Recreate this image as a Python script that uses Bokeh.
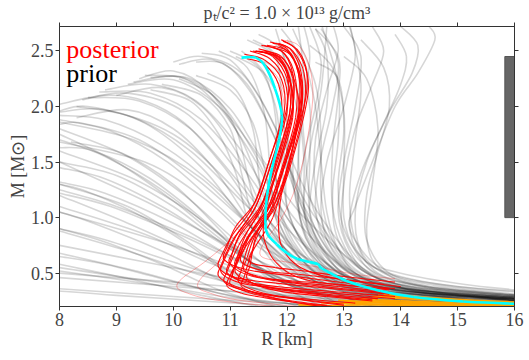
from bokeh.plotting import figure
from bokeh.models import Range1d, LinearAxis, FixedTicker, Label, PrintfTickFormatter
from bokeh.embed import file_html
from bokeh.resources import INLINE

# ---------------- data (R in km, M in solar masses) ----------------
x_ticks = [8, 9, 10, 11, 12, 13, 14, 15, 16]
y_ticks = [0.5, 1.0, 1.5, 2.0, 2.5]
title_text = "pₜ/c² = 1.0 × 10¹³ g/cm³"

# prior mass-radius curves
prior_R = [
    [16, 14.5, 13.6, 13.2, 13.1, 13.2, 13.3, 13.1],
    [16, 15.1, 14.0, 13.5, 13.1, 13.2, 13.5, 13.9, 14.3, 14.6, 14.5],
    [16, 14.3, 13.4, 12.9, 12.8, 12.9, 12.9, 12.6],
    [16, 14.2, 13.3, 12.8, 12.6, 12.6, 12.5, 12.1],
    [16, 14.6, 13.8, 13.4, 13.4, 13.6, 13.8, 13.7, 13.3],
    [16, 14.0, 13.2, 12.7, 12.4, 12.3, 12.2, 11.8, 11.3],
    [16, 14.4, 13.5, 13.0, 13.0, 13.2, 13.5, 13.7, 13.5],
    [16, 14.8, 13.8, 13.3, 13.1, 13.3, 13.7, 14.0, 14.1, 13.9],
    [16, 14.1, 13.2, 12.7, 12.5, 12.5, 12.7, 12.9, 12.8],
    [16, 14.0, 13.1, 12.5, 12.2, 12.0, 11.9, 11.6, 11.1],
    [16, 13.9, 13.0, 12.4, 12.1, 12.0, 12.0, 11.8],
    [16, 14.3, 13.4, 13.0, 12.8, 12.8, 12.9, 12.9, 12.5],
    [16, 14.5, 13.7, 13.3, 13.2, 13.4, 13.8, 14.2, 14.3, 14.0],
    [16, 15.0, 14.0, 13.4, 13.0, 12.9, 13.0, 12.9, 12.5],
    [16, 14.2, 13.2, 12.6, 12.3, 12.2, 12.3, 12.2],
    [16, 14.0, 12.9, 12.3, 12.0, 11.9, 11.8, 11.5, 11.0],
    [16, 14.4, 13.5, 13.1, 12.9, 13.0, 13.2, 13.3, 13.0],
    [16, 14.1, 13.0, 12.5, 12.3, 12.4, 12.6, 12.7],
    [16, 13.8, 12.7, 12.1, 11.8, 11.6, 11.4, 11.0, 10.4],
    [16, 14.6, 13.9, 13.5, 13.4, 13.5, 13.6, 13.4, 13.0],
    [16, 14.3, 13.3, 12.8, 12.6, 12.7, 13.0, 13.2, 13.1],
    [16, 13.9, 12.8, 12.2, 11.9, 11.8, 11.9, 11.8, 11.4],
    [16, 14.2, 13.2, 12.7, 12.4, 12.4, 12.4, 12.2, 11.8],
    [16, 14.0, 13.0, 12.5, 12.3, 12.3, 12.2, 11.9, 11.4],
    [16, 14.0, 12.9, 12.2, 11.9, 11.8, 11.8, 11.6, 11.2],
    [16, 13.8, 12.7, 12.0, 11.6, 11.5, 11.4, 11.1, 10.6],
    [16, 14.2, 13.1, 12.5, 12.2, 12.1, 12.2, 12.2, 11.9],
    [15.5, 13.5, 12.5, 11.9, 11.5, 11.3, 11.1, 10.7, 10.1],
    [16, 13.9, 12.8, 12.3, 12.0, 12.0, 12.1, 11.9, 11.5],
    [16, 14.1, 13.0, 12.4, 12.2, 12.3, 12.5, 12.6, 12.4],
    [15, 13.3, 12.3, 11.7, 11.4, 11.2, 11.0, 10.5, 9.8],
    [16, 14.0, 12.8, 12.1, 11.8, 11.7, 11.6, 11.3, 10.8],
    [14.5, 13.0, 12.1, 11.6, 11.3, 11.1, 10.8, 10.3, 9.6],
    [16, 14.2, 13.2, 12.7, 12.5, 12.6, 12.8, 12.9, 12.6],
    [16, 14.3, 13.3, 12.9, 12.7, 12.6, 12.5, 12.3, 12.0],
    [16, 14.1, 13.1, 12.6, 12.4, 12.5, 12.7, 12.7, 12.5],
    [16, 14.5, 13.6, 13.2, 13.0, 13.0, 13.0, 12.8, 12.4],
    [16, 14.0, 12.9, 12.4, 12.2, 12.2, 12.3, 12.4, 12.3],
    [13.0, 11.5, 10.0, 8.0],
    [12.0, 10.5, 9.0, 8.0],
    [14.0, 12.0, 10.0, 8.0],
    [13.5, 12.0, 10.5, 9.2, 8.0],
    [15.0, 13.0, 11.5, 10.0, 8.0],
    [13.0, 11.8, 10.5, 9.2, 8.0],
    [14.5, 12.5, 11.2, 10.0, 8.8, 8.0],
    [13.8, 12.2, 11.0, 10.0, 9.0, 8.0],
    [16.0, 13.0, 11.6, 10.6, 9.5, 8.0],
    [14.2, 12.6, 11.5, 10.5, 9.3, 8.0],
    [15.0, 13.0, 11.8, 11.0, 10.0, 8.8, 8.0],
    [13.5, 12.3, 11.3, 10.5, 9.5, 8.5, 8.0],
    [14.8, 12.8, 11.8, 11.0, 10.2, 9.2, 8.4],
    [16.0, 13.5, 12.2, 11.5, 10.8, 10.0, 9.2],
    [14.0, 12.5, 11.7, 11.2, 10.6, 10.0, 9.4],
    [15.5, 13.2, 12.3, 11.8, 11.2, 10.5, 10.0],
    [13.0, 11.6, 10.6, 9.6, 8.6, 8.0],
    [12.5, 11.2, 10.2, 9.2, 8.0],
    [12.8, 11.5, 10.0, 8.8, 8.0],
    [15.8, 12.8, 11.0, 9.5, 8.0],
    [13.2, 11.8, 10.8, 9.8, 8.8, 8.0],
    [16.0, 14.0, 12.3, 11.3, 10.3, 9.3, 8.3],
    [14.5, 12.8, 11.9, 11.2, 10.4, 9.6, 8.8],
    [12.2, 11.0, 9.8, 8.6, 8.0],
    [13.3, 12.0, 10.8, 9.8, 8.8, 8.0],
    [14.0, 12.4, 11.4, 10.4, 9.4, 8.4, 8.0],
    [12.0, 10.8, 9.5, 8.0],
    [14.5, 12.6, 11.6, 10.9, 10.2, 9.5, 8.8, 8.0],
    [15.0, 13.0, 12.0, 11.4, 10.8, 10.2, 9.5],
    [16.0, 13.6, 12.5, 11.9, 11.4, 10.9, 10.4],
    [13.6, 12.0, 10.9, 10.0, 9.0, 8.0],
    [15.2, 13.0, 11.9, 11.1, 10.3, 9.4, 8.5],
    [14.0, 12.2, 11.2, 10.2, 9.2, 8.0],
    [16.0, 13.2, 11.5, 10.2, 9.0, 8.0],
    [12.4, 11.0, 9.8, 8.8, 8.0],
    [16, 13.5, 11.8, 10.6, 9.5, 8.0],
    [15.5, 13.2, 11.7, 10.8, 9.9, 8.9, 8.0],
    [14.8, 12.6, 11.3, 10.3, 9.3, 8.0],
    [13.6, 12.0, 10.7, 9.5, 8.0],
    [15.0, 12.9, 11.4, 10.1, 8.9, 8.0],
    [14.3, 12.7, 11.6, 10.8, 9.8, 8.8, 8.0],
    [15.6, 13.4, 12.1, 11.3, 10.5, 9.6, 8.7],
    [16.0, 13.8, 12.4, 11.6, 11.0, 10.3, 9.6],
    [14.6, 12.9, 12.0, 11.4, 10.8, 10.1, 9.3],
    [13.4, 12.3, 11.6, 11.1, 10.5, 9.8, 9.0],
    [13.0, 12.0, 11.3, 10.7, 10.0, 9.2, 8.3],
    [12.6, 11.6, 10.8, 10.0, 9.1, 8.2],
    [12.3, 11.2, 10.2, 9.3, 8.4, 8.0],
    [11.8, 10.8, 9.8, 8.8, 8.0],
    [12.6, 11.0, 9.6, 8.0],
    [14.8, 12.5, 10.5, 8.0],
    [16, 13.5, 11.0, 8.0],
    [11.5, 10.5, 9.3, 8.0],
    [15.3, 13.6, 12.6, 12.0, 11.5, 11.0, 10.5],
    [14.2, 13.0, 12.3, 11.8, 11.3, 10.7, 10.1],
]
prior_M = [
    [0.30, 0.38, 0.50, 0.80, 1.20, 1.70, 2.20, 2.75],
    [0.35, 0.40, 0.50, 0.60, 0.90, 1.10, 1.50, 2.00, 2.30, 2.60, 2.72],
    [0.29, 0.37, 0.50, 0.80, 1.20, 1.70, 2.20, 2.75],
    [0.28, 0.36, 0.50, 0.80, 1.20, 1.70, 2.20, 2.70],
    [0.31, 0.39, 0.50, 0.80, 1.20, 1.60, 2.00, 2.35, 2.60],
    [0.27, 0.36, 0.50, 0.80, 1.20, 1.70, 2.10, 2.45, 2.60],
    [0.30, 0.38, 0.52, 0.85, 1.30, 1.80, 2.20, 2.50, 2.72],
    [0.33, 0.39, 0.50, 0.65, 0.95, 1.40, 1.85, 2.20, 2.45, 2.65],
    [0.28, 0.36, 0.52, 0.85, 1.25, 1.70, 2.15, 2.50, 2.75],
    [0.27, 0.35, 0.50, 0.80, 1.20, 1.60, 2.00, 2.30, 2.45],
    [0.26, 0.35, 0.50, 0.85, 1.30, 1.80, 2.30, 2.70],
    [0.29, 0.37, 0.50, 0.75, 1.10, 1.60, 2.10, 2.45, 2.70],
    [0.31, 0.38, 0.50, 0.70, 1.05, 1.50, 1.95, 2.30, 2.55, 2.72],
    [0.34, 0.38, 0.46, 0.60, 0.90, 1.30, 1.80, 2.25, 2.40],
    [0.28, 0.35, 0.48, 0.75, 1.10, 1.60, 2.20, 2.72],
    [0.27, 0.34, 0.47, 0.75, 1.10, 1.55, 2.00, 2.35, 2.50],
    [0.29, 0.36, 0.48, 0.70, 1.05, 1.50, 2.00, 2.45, 2.72],
    [0.27, 0.34, 0.48, 0.75, 1.10, 1.60, 2.15, 2.72],
    [0.26, 0.33, 0.46, 0.72, 1.05, 1.45, 1.85, 2.15, 2.28],
    [0.30, 0.36, 0.45, 0.62, 0.90, 1.30, 1.80, 2.25, 2.45],
    [0.28, 0.35, 0.47, 0.70, 1.05, 1.50, 2.00, 2.45, 2.72],
    [0.26, 0.33, 0.46, 0.72, 1.05, 1.50, 2.00, 2.45, 2.60],
    [0.28, 0.35, 0.47, 0.72, 1.05, 1.50, 2.00, 2.40, 2.58],
    [0.27, 0.34, 0.47, 0.72, 1.05, 1.50, 1.95, 2.30, 2.45],
    [0.26, 0.32, 0.45, 0.70, 1.00, 1.40, 1.90, 2.30, 2.50],
    [0.25, 0.32, 0.45, 0.70, 1.00, 1.40, 1.80, 2.15, 2.30],
    [0.27, 0.33, 0.45, 0.70, 1.05, 1.50, 2.00, 2.45, 2.70],
    [0.24, 0.31, 0.45, 0.70, 1.00, 1.40, 1.80, 2.10, 2.25],
    [0.26, 0.33, 0.47, 0.75, 1.10, 1.60, 2.10, 2.50, 2.65],
    [0.27, 0.34, 0.48, 0.75, 1.10, 1.55, 2.00, 2.40, 2.72],
    [0.23, 0.31, 0.45, 0.70, 1.00, 1.40, 1.80, 2.10, 2.20],
    [0.26, 0.32, 0.45, 0.70, 1.00, 1.45, 1.95, 2.35, 2.50],
    [0.22, 0.30, 0.45, 0.70, 1.00, 1.40, 1.75, 2.05, 2.15],
    [0.28, 0.35, 0.48, 0.75, 1.10, 1.55, 2.00, 2.40, 2.70],
    [0.29, 0.35, 0.47, 0.72, 1.05, 1.50, 2.00, 2.40, 2.60],
    [0.27, 0.34, 0.47, 0.72, 1.05, 1.50, 2.00, 2.45, 2.70],
    [0.30, 0.37, 0.48, 0.70, 1.00, 1.45, 1.95, 2.35, 2.55],
    [0.27, 0.34, 0.47, 0.75, 1.10, 1.55, 2.00, 2.45, 2.72],
    [0.20, 0.24, 0.29, 0.36],
    [0.20, 0.25, 0.30, 0.34],
    [0.20, 0.28, 0.40, 0.55],
    [0.20, 0.30, 0.48, 0.70, 0.88],
    [0.21, 0.30, 0.48, 0.75, 1.05],
    [0.20, 0.35, 0.65, 0.95, 1.20],
    [0.21, 0.32, 0.60, 0.95, 1.22, 1.32],
    [0.20, 0.38, 0.72, 1.10, 1.38, 1.50],
    [0.24, 0.35, 0.70, 1.15, 1.50, 1.68],
    [0.20, 0.40, 0.85, 1.35, 1.70, 1.86],
    [0.22, 0.38, 0.80, 1.30, 1.75, 1.97, 1.95],
    [0.20, 0.45, 0.95, 1.45, 1.85, 2.00, 1.96],
    [0.21, 0.42, 0.90, 1.50, 1.95, 2.12, 2.06],
    [0.25, 0.42, 0.95, 1.55, 2.00, 2.24, 2.20],
    [0.20, 0.50, 1.10, 1.70, 2.15, 2.32, 2.25],
    [0.23, 0.50, 1.10, 1.80, 2.30, 2.45, 2.40],
    [0.20, 0.50, 0.95, 1.35, 1.60, 1.63],
    [0.20, 0.45, 0.80, 1.10, 1.30],
    [0.20, 0.35, 0.60, 0.80, 0.90],
    [0.22, 0.30, 0.45, 0.60, 0.75],
    [0.20, 0.45, 0.85, 1.25, 1.55, 1.70],
    [0.25, 0.33, 0.65, 1.10, 1.60, 1.90, 2.00],
    [0.20, 0.45, 1.00, 1.60, 2.05, 2.20, 2.15],
    [0.20, 0.40, 0.70, 0.95, 1.05],
    [0.20, 0.42, 0.78, 1.10, 1.35, 1.45],
    [0.20, 0.45, 0.90, 1.35, 1.70, 1.85, 1.84],
    [0.20, 0.32, 0.50, 0.68],
    [0.20, 0.45, 0.95, 1.45, 1.85, 2.05, 2.10, 2.02],
    [0.21, 0.45, 1.00, 1.55, 2.00, 2.25, 2.28],
    [0.25, 0.45, 1.00, 1.60, 2.10, 2.38, 2.40],
    [0.20, 0.40, 0.78, 1.15, 1.50, 1.75],
    [0.22, 0.40, 0.85, 1.35, 1.80, 2.05, 2.08],
    [0.20, 0.38, 0.75, 1.20, 1.55, 1.80],
    [0.23, 0.32, 0.55, 0.85, 1.10, 1.25],
    [0.20, 0.30, 0.45, 0.58, 0.65],
    [0.25, 0.33, 0.55, 0.85, 1.15, 1.50],
    [0.24, 0.36, 0.70, 1.10, 1.50, 1.78, 1.88],
    [0.22, 0.35, 0.68, 1.05, 1.35, 1.60],
    [0.20, 0.33, 0.58, 0.85, 1.10],
    [0.23, 0.32, 0.55, 0.85, 1.10, 1.22],
    [0.21, 0.40, 0.80, 1.25, 1.65, 1.88, 1.92],
    [0.24, 0.40, 0.85, 1.40, 1.88, 2.12, 2.13],
    [0.25, 0.42, 0.95, 1.50, 1.98, 2.25, 2.26],
    [0.21, 0.45, 1.00, 1.60, 2.05, 2.27, 2.22],
    [0.20, 0.50, 1.05, 1.60, 2.00, 2.17, 2.10],
    [0.20, 0.50, 1.00, 1.45, 1.80, 1.97, 1.90],
    [0.20, 0.48, 0.90, 1.30, 1.58, 1.68],
    [0.20, 0.42, 0.78, 1.05, 1.25, 1.30],
    [0.20, 0.35, 0.58, 0.78, 0.90],
    [0.20, 0.28, 0.40, 0.52],
    [0.22, 0.28, 0.36, 0.46],
    [0.25, 0.30, 0.38, 0.50],
    [0.20, 0.30, 0.44, 0.58],
    [0.23, 0.45, 1.00, 1.60, 2.10, 2.42, 2.48],
    [0.21, 0.48, 1.05, 1.70, 2.20, 2.42, 2.38],
]

# posterior curves
post_R = [
    [13.8, 12.6, 11.8, 11.1, 10.8, 10.85, 11.05, 11.4, 11.68, 11.95, 11.9, 11.6, 11.25],
    [13.9, 12.8, 11.9, 11.2, 10.85, 10.9, 11.1, 11.45, 11.73, 12.0, 12.0, 11.75, 11.4],
    [13.0, 12.3, 11.7, 11.2, 10.9, 10.95, 11.15, 11.5, 11.78, 12.05, 12.05, 11.85, 11.5],
    [13.8, 12.9, 12.1, 11.4, 11.0, 11.05, 11.2, 11.55, 11.83, 12.1, 12.1, 11.9, 11.55],
    [12.8, 12.1, 11.6, 11.2, 10.95, 11.0, 11.25, 11.6, 11.88, 12.15, 12.15, 11.95, 11.6],
    [13.6, 12.7, 12.0, 11.45, 11.1, 11.15, 11.3, 11.65, 11.93, 12.2, 12.2, 12.0, 11.7],
    [13.7, 12.9, 12.2, 11.6, 11.2, 11.25, 11.4, 11.75, 11.98, 12.25, 12.25, 12.05, 11.75],
    [13.5, 12.7, 12.1, 11.6, 11.3, 11.35, 11.45, 11.75, 12.03, 12.3, 12.3, 12.1, 11.85],
    [13.9, 12.9, 12.0, 11.4, 11.05, 11.1, 11.3, 11.7, 11.98, 12.3, 12.35, 12.2, 11.93],
    [13.2, 12.3, 11.6, 11.1, 10.8, 10.85, 11.05, 11.45, 11.73, 12.0, 11.95, 11.7, 11.35],
    [13.0, 12.4, 11.9, 11.45, 11.15, 11.2, 11.35, 11.7, 11.93, 12.2, 12.15, 11.95, 11.65],
    [13.9, 12.9, 12.0, 11.3, 10.9, 10.95, 11.1, 11.45, 11.68, 11.9, 11.85, 11.6, 11.3],
    [13.8, 13.0, 12.3, 11.6, 11.25, 11.3, 11.45, 11.8, 12.08, 12.35, 12.35, 12.15, 11.9],
    [12.7, 12.1, 11.6, 11.25, 11.0, 11.05, 11.2, 11.55, 11.83, 12.1, 12.05, 11.85, 11.5],
    [13.8, 12.9, 12.1, 11.5, 11.1, 11.15, 11.3, 11.6, 11.86, 12.1, 12.05, 11.8, 11.45],
    [13.9, 13.0, 12.3, 11.8, 11.35, 11.4, 11.5, 11.8, 12.03, 12.25, 12.2, 12.0, 11.65],
    [13.5, 12.7, 11.9, 11.3, 10.95, 11.0, 11.15, 11.55, 11.78, 12.05, 12.0, 11.75, 11.45],
    [12.6, 12.1, 11.75, 11.45, 11.2, 11.25, 11.4, 11.75, 11.98, 12.25, 12.25, 12.05, 11.75],
    [14.0, 13.3, 12.6, 12.15, 11.9, 11.85, 11.9, 12.05, 12.2, 12.25, 12.1, 11.85],
    [13.8, 12.8, 12.2, 11.8, 11.6, 11.6, 11.75, 11.95, 12.1, 12.1, 11.9, 11.6],
]
post_M = [
    [0.31, 0.37, 0.41, 0.46, 0.55, 0.66, 0.85, 1.10, 1.50, 1.95, 2.25, 2.42, 2.47],
    [0.27, 0.32, 0.36, 0.41, 0.50, 0.62, 0.83, 1.10, 1.50, 2.00, 2.30, 2.46, 2.50],
    [0.22, 0.26, 0.30, 0.35, 0.42, 0.52, 0.75, 1.05, 1.45, 1.95, 2.25, 2.45, 2.52],
    [0.35, 0.40, 0.43, 0.47, 0.58, 0.70, 0.88, 1.12, 1.50, 2.00, 2.30, 2.50, 2.55],
    [0.20, 0.24, 0.28, 0.32, 0.38, 0.48, 0.72, 1.00, 1.40, 1.90, 2.25, 2.48, 2.55],
    [0.27, 0.31, 0.35, 0.40, 0.50, 0.62, 0.82, 1.08, 1.45, 1.95, 2.30, 2.52, 2.58],
    [0.40, 0.45, 0.49, 0.52, 0.60, 0.72, 0.90, 1.15, 1.50, 2.00, 2.30, 2.52, 2.57],
    [0.25, 0.29, 0.32, 0.37, 0.45, 0.57, 0.80, 1.08, 1.45, 2.00, 2.30, 2.50, 2.57],
    [0.29, 0.33, 0.37, 0.41, 0.47, 0.58, 0.80, 1.10, 1.50, 2.00, 2.30, 2.50, 2.59],
    [0.23, 0.27, 0.31, 0.38, 0.47, 0.58, 0.80, 1.10, 1.50, 1.95, 2.25, 2.43, 2.50],
    [0.21, 0.25, 0.29, 0.34, 0.42, 0.53, 0.78, 1.05, 1.45, 1.90, 2.20, 2.42, 2.48],
    [0.36, 0.42, 0.48, 0.53, 0.62, 0.74, 0.92, 1.15, 1.50, 1.90, 2.20, 2.38, 2.43],
    [0.32, 0.36, 0.40, 0.45, 0.52, 0.64, 0.85, 1.10, 1.50, 2.05, 2.30, 2.52, 2.60],
    [0.21, 0.25, 0.29, 0.34, 0.40, 0.50, 0.73, 1.02, 1.42, 1.90, 2.22, 2.44, 2.50],
    [0.33, 0.38, 0.42, 0.47, 0.56, 0.68, 0.87, 1.12, 1.50, 1.95, 2.25, 2.45, 2.50],
    [0.42, 0.47, 0.52, 0.55, 0.60, 0.72, 0.90, 1.15, 1.50, 2.00, 2.30, 2.50, 2.55],
    [0.26, 0.30, 0.35, 0.41, 0.50, 0.61, 0.82, 1.10, 1.48, 1.95, 2.25, 2.45, 2.50],
    [0.20, 0.24, 0.28, 0.32, 0.38, 0.47, 0.70, 1.00, 1.40, 1.95, 2.25, 2.47, 2.53],
    [0.38, 0.42, 0.48, 0.58, 0.75, 0.95, 1.20, 1.50, 1.90, 2.20, 2.45, 2.55],
    [0.36, 0.40, 0.46, 0.60, 0.80, 1.00, 1.30, 1.65, 2.00, 2.25, 2.45, 2.50],
]

# low-weight posterior curves (faint)
faint_R = [
    [11.8, 11.2, 10.6, 10.25, 10.07, 10.15, 10.6, 11.05, 11.5, 11.8, 11.95, 11.9, 11.6],
    [12.2, 11.6, 11.0, 10.65, 10.44, 10.5, 10.9, 11.3, 11.65, 11.9, 12.0, 11.85, 11.5],
    [13.9, 13.2, 12.6, 12.0, 11.55, 11.6, 11.85, 12.1, 12.3, 12.45, 12.4, 12.2, 11.9],
]
faint_M = [
    [0.20, 0.23, 0.27, 0.32, 0.37, 0.45, 0.62, 0.82, 1.06, 1.40, 1.80, 2.15, 2.40],
    [0.20, 0.23, 0.27, 0.32, 0.37, 0.46, 0.65, 0.90, 1.20, 1.55, 1.95, 2.25, 2.42],
    [0.45, 0.49, 0.55, 0.60, 0.65, 0.78, 0.95, 1.20, 1.55, 2.05, 2.35, 2.55, 2.60],
]

# orange low-mass curves
orange_R = [
    [12.2, 13.0, 13.8],
    [12.6, 13.5, 14.5, 15.5],
    [12.9, 13.8, 14.8, 16.0],
    [13.2, 14.0, 15.0, 16.0],
    [13.5, 14.3, 15.2, 16.0],
    [13.7, 14.5, 15.3, 16.0],
    [13.3, 14.2, 15.2, 16.0],
    [12.8, 13.8, 15.0, 16.0],
    [13.0, 13.9, 14.9, 16.0],
    [13.6, 14.4, 15.2, 16.0],
]
orange_M = [
    [0.215, 0.205, 0.198],
    [0.235, 0.220, 0.207, 0.198],
    [0.255, 0.235, 0.218, 0.205],
    [0.270, 0.250, 0.230, 0.215],
    [0.290, 0.265, 0.243, 0.228],
    [0.310, 0.280, 0.255, 0.240],
    [0.255, 0.235, 0.215, 0.205],
    [0.230, 0.215, 0.200, 0.195],
    [0.245, 0.228, 0.212, 0.200],
    [0.300, 0.272, 0.250, 0.234],
]

# highlighted (cyan) curve
cyan_R = [11.2, 11.45, 11.62, 11.79, 11.91, 11.86, 11.74, 11.65, 11.62, 11.66, 11.82, 12.0,
          12.18, 12.4, 12.55, 12.62, 13.05, 13.65, 14.23, 15.1, 16.0]
cyan_M = [2.44, 2.44, 2.36, 2.16, 1.92, 1.70, 1.45, 1.20, 0.95, 0.85, 0.76, 0.68,
          0.63, 0.60, 0.58, 0.54, 0.43, 0.34, 0.285, 0.245, 0.225]

# mass-range bar at the right edge
bar_R = [15.83, 16.0]
bar_M = [1.0, 2.45]


def smooth(curves_R, curves_M):
    """Bezier segments passing through every read point (Catmull-Rom tangents)."""
    out = {k: [] for k in ("x0", "y0", "x1", "y1", "cx0", "cy0", "cx1", "cy1")}
    for xs, ys in zip(curves_R, curves_M):
        n = len(xs)
        for i in range(n - 1):
            a, b = max(i - 1, 0), min(i + 2, n - 1)
            out["x0"].append(xs[i]); out["y0"].append(ys[i])
            out["x1"].append(xs[i + 1]); out["y1"].append(ys[i + 1])
            out["cx0"].append(xs[i] + (xs[i + 1] - xs[a]) / 6.0)
            out["cy0"].append(ys[i] + (ys[i + 1] - ys[a]) / 6.0)
            out["cx1"].append(xs[i + 1] - (xs[b] - xs[i]) / 6.0)
            out["cy1"].append(ys[i + 1] - (ys[b] - ys[i]) / 6.0)
    return out


# ---------------- figure ----------------
SERIF = "'Liberation Serif', 'Times New Roman', serif"
AX = "#333333"
p = figure(width=529, height=352, x_range=Range1d(8, 16), y_range=Range1d(0.2, 2.72),
           output_backend="svg", toolbar_location=None,
           min_border_left=59, min_border_right=15, min_border_top=26, min_border_bottom=46)
p.grid.visible = False
p.outline_line_color = AX

p.title.text = title_text
p.title.align = "center"
p.title.text_font = SERIF
p.title.text_font_size = "18px"
p.title.text_font_style = "normal"
p.title.standoff = 0
p.title.offset = 0

for ax in (p.xaxis[0], p.yaxis[0]):
    ax.major_label_text_font = SERIF
    ax.major_label_text_font_size = "18px"
    ax.axis_label_text_font = SERIF
    ax.axis_label_text_font_size = "18px"
    ax.axis_label_text_font_style = "normal"
    ax.major_tick_out = 4
    ax.major_tick_in = 0
    ax.minor_tick_out = 0
    ax.minor_tick_in = 0
    ax.axis_line_color = AX
    ax.major_tick_line_color = AX
    ax.major_label_standoff = 2
    ax.axis_label_standoff = 0

p.xaxis[0].ticker = FixedTicker(ticks=x_ticks)
p.yaxis[0].ticker = FixedTicker(ticks=y_ticks)
p.yaxis[0].formatter = PrintfTickFormatter(format="%.1f")
p.xaxis[0].axis_label = "R [km]"
p.yaxis[0].axis_label = "M [M⊙]"

for loc, ticks in (("above", x_ticks), ("right", y_ticks)):
    ax = LinearAxis(ticker=FixedTicker(ticks=ticks), major_label_text_color=None,
                    major_label_text_font_size="1px", major_label_standoff=0,
                    major_tick_out=4, major_tick_in=0, minor_tick_out=0, minor_tick_in=0,
                    axis_line_color=AX, major_tick_line_color=AX)
    p.add_layout(ax, loc)

# curves
p.bezier(line_color="black", line_width=1.6, line_alpha=0.16, **smooth(prior_R, prior_M))
p.bezier(line_color="orange", line_width=1.8, line_alpha=1.0, **smooth(orange_R, orange_M))
p.bezier(line_color="red", line_width=1.0, line_alpha=0.3, **smooth(faint_R, faint_M))
p.bezier(line_color="red", line_width=1.1, line_alpha=0.95, **smooth(post_R, post_M))
p.bezier(line_color="cyan", line_width=2.6, **smooth([cyan_R], [cyan_M]))

p.quad(left=[bar_R[0]], right=[bar_R[1]], bottom=[bar_M[0]], top=[bar_M[1]],
       fill_color="#666666", line_color="#555555", line_width=1)

p.add_layout(Label(x=8.12, y=2.513, text="posterior", text_color="red", text_font=SERIF,
                   text_font_size="26px", text_baseline="alphabetic"))
p.add_layout(Label(x=8.12, y=2.297, text="prior", text_color="black", text_font=SERIF,
                   text_font_size="26px", text_baseline="alphabetic"))

open("out.html", "w").write(file_html(p, INLINE))
